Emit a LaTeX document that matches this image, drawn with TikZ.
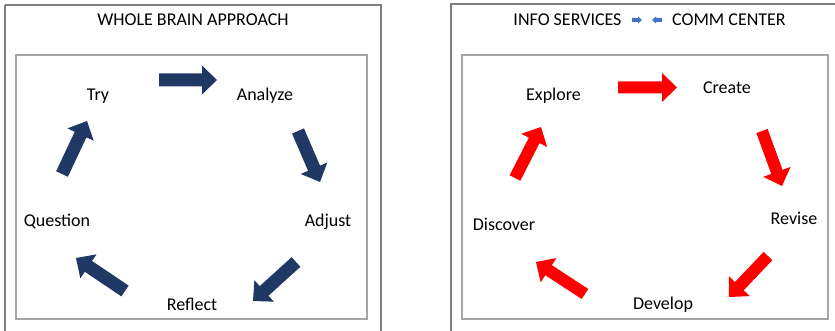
\documentclass[tikz,border=0pt]{standalone}
\usepackage{fontspec}
\setmainfont{Carlito}
\usetikzlibrary{calc}
\definecolor{navy}{HTML}{203864}
\definecolor{brred}{HTML}{FF0000}
\definecolor{tblue}{HTML}{4472C4}
\definecolor{outerg}{HTML}{7F7F7F}
\definecolor{innerg}{HTML}{A6A6A6}
\tikzset{
  lbl/.style={anchor=base, inner sep=0pt, font=\fontsize{18}{20}\selectfont},
  outerbox/.style={draw=outerg, line width=1.3pt},
  innerbox/.style={draw=innerg, line width=1.3pt},
}
% block arrow: tail, tip, colour, shaft half width, head half width, head length
\newcommand\blkarrow[6]{%
  \coordinate (hb) at ($(#2)!#6!(#1)$);
  \fill[#3] ($(#1)!#4!90:(#2)$) -- ($(hb)!#4!90:(#2)$) -- ($(hb)!#5!90:(#2)$) -- (#2)
    -- ($(hb)!#5!-90:(#2)$) -- ($(hb)!#4!-90:(#2)$) -- ($(#1)!#4!-90:(#2)$) -- cycle;}
\begin{document}
\begin{tikzpicture}[x=1pt,y=-1pt]
\useasboundingbox (0,0) rectangle (835,331);
\fill[white] (0,0) rectangle (835,331);
% boxes
\draw[outerbox] (5,5) -- (5,345) (5,5) -- (381,5) -- (381,345);
\draw[innerbox] (16,55) rectangle (367,319);
\draw[outerbox] (451,345) -- (451,4) -- (845,4);
\draw[innerbox] (462,55) rectangle (828,319);
% titles
\node[lbl] (t1) at (193,26) {WHOLE BRAIN APPROACH};
\node[lbl] (t2a) at (567.5,26) {INFO SERVICES};
\node[lbl] (t2b) at (729,26) {COMM CENTER};
\coordinate (sa1) at (632,20); \coordinate (sa2) at (642,20);
\coordinate (sb1) at (662,20); \coordinate (sb2) at (652,20);
\blkarrow{sa1}{sa2}{tblue}{2pt}{3.5pt}{4pt}
\blkarrow{sb1}{sb2}{tblue}{2pt}{3.5pt}{4pt}
% left labels
\node[lbl] (try) at (98,100.5) {Try};
\node[lbl] (analyze) at (265,100.5) {Analyze};
\node[lbl] (adjust) at (328,226.5) {Adjust};
\node[lbl] (reflect) at (192,310) {Reflect};
\node[lbl] (question) at (57,226) {Question};
% left arrows
\coordinate (l1a) at (159,80);  \coordinate (l1b) at (217,80);
\coordinate (l2a) at (298,131); \coordinate (l2b) at (320,182);
\coordinate (l3a) at (296,262); \coordinate (l3b) at (253,301);
\coordinate (l4a) at (125,291); \coordinate (l4b) at (76,258);
\coordinate (l5a) at (62,174);  \coordinate (l5b) at (87,121);
\foreach \a in {1,...,5}{\blkarrow{l\a a}{l\a b}{navy}{6.5pt}{14.5pt}{15pt}}
% right labels
\node[lbl] (explore) at (553.5,101) {Explore};
\node[lbl] (create) at (727,93.5) {Create};
\node[lbl] (revise) at (794,225) {Revise};
\node[lbl] (develop) at (663,309) {Develop};
\node[lbl] (discover) at (504,230) {Discover};
% right arrows
\coordinate (r1a) at (618,87.5); \coordinate (r1b) at (677,87.5);
\coordinate (r2a) at (762,131);  \coordinate (r2b) at (782,186);
\coordinate (r3a) at (768,256);  \coordinate (r3b) at (729,297);
\coordinate (r4a) at (585,294);  \coordinate (r4b) at (536,262);
\coordinate (r5a) at (515,178);  \coordinate (r5b) at (541,127);
\foreach \a in {1,...,5}{\blkarrow{r\a a}{r\a b}{brred}{6pt}{14.5pt}{15pt}}
\end{tikzpicture}
\end{document}
